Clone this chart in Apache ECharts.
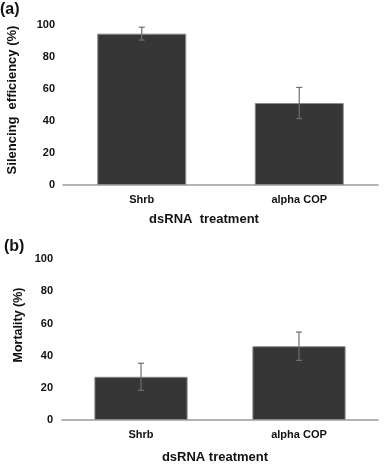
<!DOCTYPE html>
<html>
<head>
<meta charset="utf-8">
<script src="https://cdn.jsdelivr.net/npm/echarts@6/dist/echarts.min.js"></script>
<style>
  html, body { margin: 0; padding: 0; background: #fff; }
  #chart { width: 388px; height: 467px; }
</style>
</head>
<body>
<div id="chart"></div>
<script>
// data
var categories = ['Shrb', 'alpha COP'];
var silencing = [94.3, 51.1];
var silencingErr = [4.0, 9.7];
var mortality = [26.9, 45.9];
var mortalityErr = [8.4, 8.8];
var yTicks = [0, 20, 40, 60, 80, 100];

var font = 'Liberation Sans, Arial, sans-serif';

function errData(vals, errs) {
    return vals.map(function (v, i) { return [i, v, errs[i]]; });
}

// error bar drawn with the axis coordinate system
function renderErr(params, api) {
    var x = api.value(0), v = api.value(1), e = api.value(2);
    var top = api.coord([x, v + e]);
    var bot = api.coord([x, v - e]);
    var cap = 3;
    var st = { stroke: '#6e6e6e', lineWidth: 1.2 };
    return {
        type: 'group',
        children: [
            { type: 'line', shape: { x1: top[0], y1: top[1], x2: bot[0], y2: bot[1] }, style: st },
            { type: 'line', shape: { x1: top[0] - cap, y1: top[1], x2: top[0] + cap, y2: top[1] }, style: st },
            { type: 'line', shape: { x1: bot[0] - cap, y1: bot[1], x2: bot[0] + cap, y2: bot[1] }, style: st }
        ]
    };
}

function xAxisOpt(idx) {
    return {
        type: 'category',
        gridIndex: idx,
        data: categories,
        axisLine: { lineStyle: { color: '#9a9a9a', width: 1.5 } },
        axisTick: { show: false },
        axisLabel: { color: '#111', fontWeight: 'bold', fontSize: 11, fontFamily: font, margin: 9 }
    };
}

function yAxisOpt(idx, margin) {
    return {
        type: 'value',
        gridIndex: idx,
        min: yTicks[0],
        max: yTicks[yTicks.length - 1],
        interval: 20,
        axisLine: { show: false },
        axisTick: { show: false },
        splitLine: { show: false },
        axisLabel: { color: '#111', fontWeight: 'bold', fontSize: 11, fontFamily: font, margin: margin }
    };
}

function label(text, x, y, size, rot) {
    return {
        type: 'text', x: x, y: y, rotation: rot || 0,
        style: { text: text, font: 'bold ' + size + 'px ' + font, fill: '#111', align: 'center', verticalAlign: 'middle' }
    };
}

var chart = echarts.init(document.getElementById('chart'));

var option = {
    animation: false,
    backgroundColor: '#fff',
    grid: [
        { left: 63, right: 10, top: 24.5, height: 160.5 },
        { left: 62, right: 10, top: 259.3, height: 160.7 }
    ],
    xAxis: [xAxisOpt(0), xAxisOpt(1)],
    yAxis: [yAxisOpt(0, 8), yAxisOpt(1, 9)],
    graphic: [
        { type: 'text', left: 0, top: 2, style: { text: '(a)', font: 'bold 16px ' + font, fill: '#111' } },
        { type: 'text', left: 4, top: 239, style: { text: '(b)', font: 'bold 16px ' + font, fill: '#111' } },
        label('Silencing  efficiency (%)', 12, 100, 13, Math.PI / 2),
        label('Mortality (%)', 19, 325, 12.5, Math.PI / 2),
        label('dsRNA  treatment', 204, 219, 13),
        label('dsRNA treatment', 215, 457.5, 13)
    ],
    series: [
        {
            type: 'bar', xAxisIndex: 0, yAxisIndex: 0, data: silencing, barWidth: '56.5%',
            itemStyle: { color: '#363636', borderColor: '#8a8a8a', borderWidth: 1 }
        },
        {
            type: 'custom', xAxisIndex: 0, yAxisIndex: 0, renderItem: renderErr,
            data: errData(silencing, silencingErr), z: 5
        },
        {
            type: 'bar', xAxisIndex: 1, yAxisIndex: 1, data: mortality, barWidth: '59%',
            itemStyle: { color: '#363636', borderColor: '#8a8a8a', borderWidth: 1 }
        },
        {
            type: 'custom', xAxisIndex: 1, yAxisIndex: 1, renderItem: renderErr,
            data: errData(mortality, mortalityErr), z: 5
        }
    ]
};

chart.setOption(option);
</script>
</body>
</html>
